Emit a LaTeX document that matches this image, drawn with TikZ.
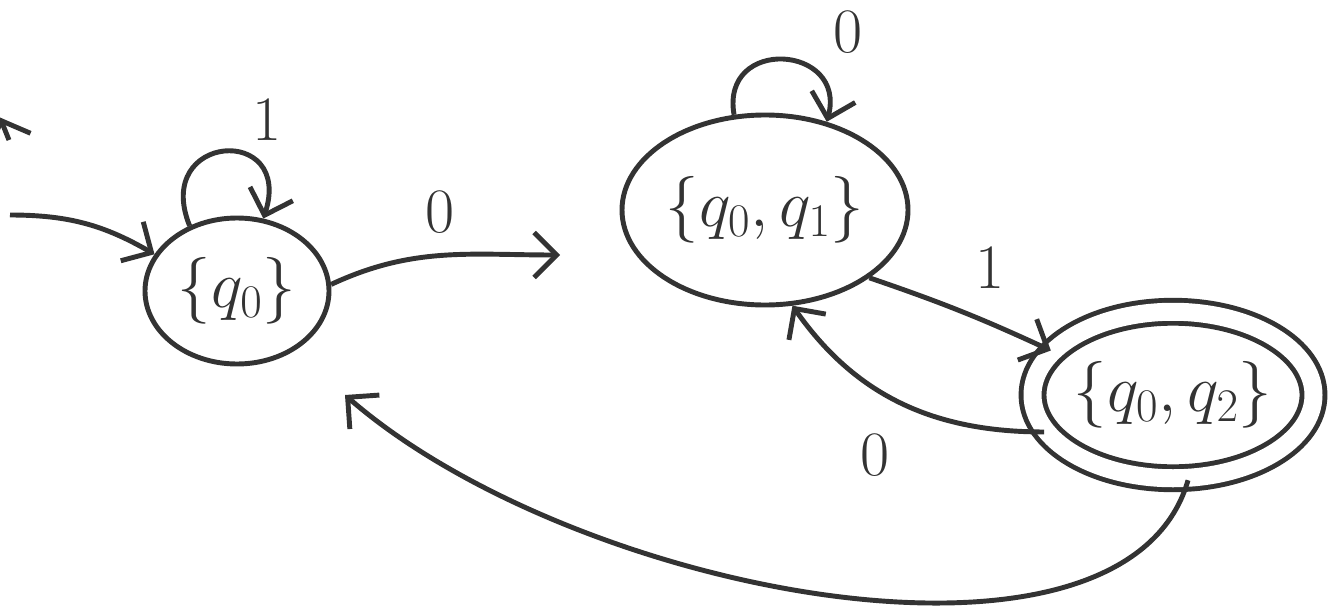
\RequirePackage{fix-cm}
\documentclass[tikz,border=0pt]{standalone}
\usepackage{amsmath}
\usetikzlibrary{arrows.meta, shapes.geometric}
\definecolor{ink}{HTML}{333333}
\tikzset{
  dfastate/.style={ellipse, draw=ink, line width=2.8pt, inner sep=0pt,
    font=\fontsize{38}{44}\selectfont},
}

\begin{document}
\begin{tikzpicture}[>={Straight Barb[length=4.5mm,width=9mm]}, line width=2.8pt, color=ink,
    font=\fontsize{36}{42}\selectfont]
  \useasboundingbox (0,0) rectangle (26.62,12.2);
  \node[dfastate, minimum width=3.68cm, minimum height=2.92cm] (q0) at (4.74,6.38) {$\{q_0\}$};
  \node[dfastate, minimum width=5.72cm, minimum height=3.8cm] (q01) at (15.3,8.0) {$\{q_0,q_1\}$};
  \node[dfastate, double, double distance=0.36cm, minimum width=5.52cm, minimum height=3.33cm] (q02) at (23.46,4.3) {$\{q_0,q_2\}$};
  \coordinate (start) at (0.2,7.9);
  \coordinate (a01) at (11.2,7.1);
  \coordinate (a0) at (6.9,4.3);
  \coordinate (edge) at (0.18,9.4);
  \coordinate (corner) at (0.0,9.85);
  % start arrow and a cut-off one at the corner
  \draw[->] (start) to[out=0,in=150] (q0.156);
  \draw[->] (edge) -- (corner);
  % loops
  \draw[->] (q0.126) .. controls +(112:2.0) and +(72:2.0) .. (q0.70);
  \node (l1) at (5.34,9.8) {1};
  \draw[->] (q01.108) .. controls +(100:1.6) and +(75:1.6) .. (q01.55);
  \node (l2) at (16.96,11.56) {0};
  % transitions
  \draw[->] (q0.4) to[out=25,in=180] (a01);
  \node (l3) at (8.8,7.96) {0};
  \draw[->] (q01.-33) to[bend left=3] (q02.160);
  \node (l4) at (19.8,6.84) {1};
  \draw[->] (q02.196) to[out=180,in=-55] (q01.-74);
  \node (l5) at (17.5,3.1) {0};
  \draw[->] (q02.-80) .. controls (22.5,-1.8) and (11.5,0.3) .. (a0);
\end{tikzpicture}
\end{document}
